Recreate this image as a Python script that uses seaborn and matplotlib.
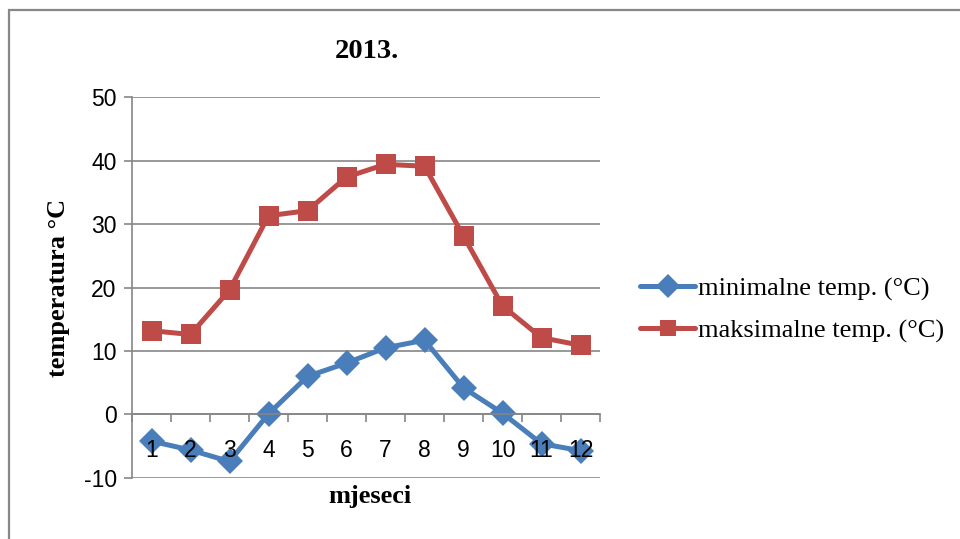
import pandas as pd
import matplotlib.pyplot as plt
import matplotlib.patches as patches
import seaborn as sns

months = [1, 2, 3, 4, 5, 6, 7, 8, 9, 10, 11, 12]
min_temp = [-4.2, -5.6, -7.4, 0.1, 6.0, 8.1, 10.5, 11.7, 4.2, 0.2, -4.6, -5.7]
max_temp = [13.2, 12.6, 19.6, 31.3, 32.1, 37.4, 39.4, 39.1, 28.1, 17.1, 12.1, 10.9]
y_ticks = [-10, 0, 10, 20, 30, 40, 50]

sns.set_theme(style="white")
plt.rcParams["font.family"] = ["Liberation Sans", "DejaVu Sans"]
plt.rcParams["text.color"] = "black"

df = pd.DataFrame({
    "pos": list(range(len(months))) * 2,
    "temp": min_temp + max_temp,
    "serija": ["minimalne temp. (°C)"] * 12 + ["maksimalne temp. (°C)"] * 12,
})

fig = plt.figure(figsize=(9.6, 5.39), dpi=100)
ax = fig.add_axes([0.1375, 0.1132, 0.4875, 0.7068])

palette = {"minimalne temp. (°C)": "#4A7EBB", "maksimalne temp. (°C)": "#BE4B48"}
markers = {"minimalne temp. (°C)": "D", "maksimalne temp. (°C)": "s"}
sns.lineplot(data=df, x="pos", y="temp", hue="serija", style="serija",
             palette=palette, markers=markers, dashes=False, linewidth=3.6,
             markersize=13, markeredgewidth=0, ax=ax, legend=False)
# square markers a bit bigger than diamonds
ax.lines[1].set_markersize(14)

ax.set_xlim(-0.5, 11.5)
ax.set_ylim(-10, 50)
ax.set_yticks(y_ticks)
ax.set_yticklabels([str(v) for v in y_ticks], fontsize=16.5, color="black")
ax.yaxis.grid(True, color="#868686", linewidth=1.2)
ax.set_axisbelow(True)
# month labels sit on top of the lines, like in the original
ax.xaxis.set_zorder(3)

ax.spines["top"].set_visible(False)
ax.spines["right"].set_visible(False)
ax.spines["left"].set_color("#868686")
ax.spines["bottom"].set_color("#868686")
ax.spines["left"].set_linewidth(1.2)
ax.spines["bottom"].set_linewidth(1.2)
ax.spines["bottom"].set_position(("data", 0))

ax.set_xticks(range(len(months)))
ax.set_xticklabels([str(m) for m in months], fontsize=16.5, color="black")
ax.set_xticks([i - 0.5 for i in range(len(months) + 1)], minor=True)
ax.tick_params(axis="x", which="major", length=0, pad=18)
ax.tick_params(axis="x", which="minor", length=6, width=1.2, color="#868686",
               direction="out", bottom=True)
ax.tick_params(axis="y", length=6, width=1.2, color="#868686", left=True, pad=5)

serif = ["Liberation Serif", "DejaVu Serif"]
ax.set_xlabel("")
ax.set_ylabel("")
fig.text(58 / 960, 1 - 288 / 539, "temperatura °C", family=serif, fontsize=19,
         fontweight="bold", rotation=90, ha="center", va="center")
fig.text(370 / 960, 1 - 497 / 539, "mjeseci", family=serif, fontsize=19,
         fontweight="bold", ha="center", va="center")
fig.text(367 / 960, 1 - 52 / 539, "2013.", family=serif, fontsize=20.5,
         fontweight="bold", ha="center", va="center")

handles = ax.lines[:2]
leg = fig.legend(handles, ["minimalne temp. (°C)", "maksimalne temp. (°C)"],
                 loc="center left", bbox_to_anchor=(640 / 960, 1 - 310 / 539),
                 frameon=False, prop={"family": serif, "size": 19},
                 handlelength=2.1, handletextpad=0.08, labelspacing=0.68,
                 borderpad=0, borderaxespad=0)
for h in leg.legend_handles:
    h.set_markersize(12)

# outer frame (only top and left edges are visible in the reference)
fig.add_artist(patches.Rectangle((9 / 960, -0.1), 1.2, 1 - 10 / 539 + 0.1,
                                 transform=fig.transFigure, fill=False,
                                 edgecolor="#878787", linewidth=1.6,
                                 clip_on=False))

fig.savefig("out.png", dpi=100)
